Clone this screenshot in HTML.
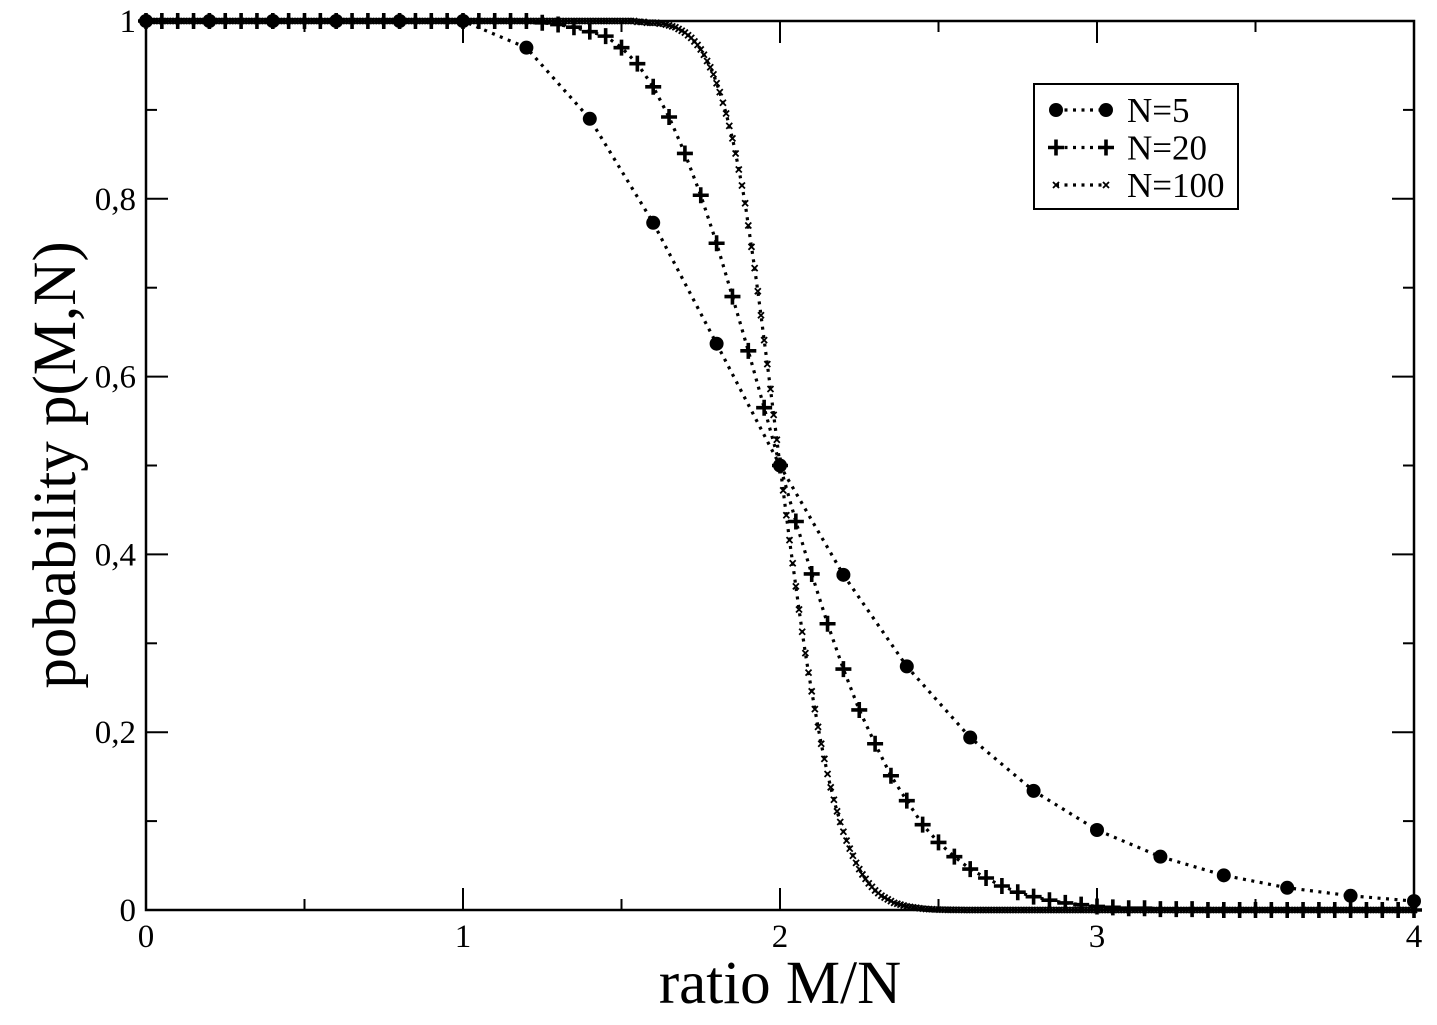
<!DOCTYPE html>
<html><head><meta charset="utf-8"><style>
html,body{margin:0;padding:0;background:#fff;}
svg{display:block;font-family:"Liberation Serif",serif;}
</style></head><body>
<svg id="chart" width="1437" height="1025" viewBox="0 0 1437 1025" xmlns="http://www.w3.org/2000/svg">
<g id="grid"></g>
<g id="series"></g>
<rect x="146" y="21" width="1268" height="889" fill="none" stroke="#000" stroke-width="2.5"/>
<text x="780" y="1003" font-size="61" text-anchor="middle">ratio M/N</text>
<text transform="translate(75,465) rotate(-90)" font-size="61" text-anchor="middle">pobability p(M,N)</text>
<g>
<rect x="1034" y="84" width="204" height="125" fill="#fff" stroke="#000" stroke-width="2"/>
<g id="legend-entries"></g>
</g>
</svg>
<script>
const xTicks=[0,1,2,3,4];
const xTickLabels=["0","1","2","3","4"];
const yTicks=[0,0.2,0.4,0.6,0.8,1];
const yTickLabels=["0","0,2","0,4","0,6","0,8","1"];
const x5=[0,0.2,0.4,0.6,0.8,1,1.2,1.4,1.6,1.8,2,2.2,2.4,2.6,2.8,3,3.2,3.4,3.6,3.8,4];
const y5=[1,1,1,1,1,1,0.97,0.89,0.773,0.637,0.5,0.377,0.274,0.194,0.134,0.09,0.06,0.039,0.025,0.016,0.01];
const y20=[1,1,1,1,1,1,1,1,1,1,1,1,1,1,1,1,1,1,1,1,1,1,1,1,1,
0.998,0.996,0.993,0.988,0.983,0.97,0.952,0.926,0.892,0.851,0.804,0.75,0.69,0.629,0.565,0.5,
0.437,0.378,0.322,0.271,0.225,0.187,0.151,0.123,0.096,0.076,0.06,0.046,0.036,0.027,0.02,0.015,0.011,0.008,0.006,0.004,
0.003,0.002,0.002,0.001,0.001,0.001,0,0,0,0,0,0,0,0,0,0,0,0,0,0];
const y100=[
1,1,1,1,1,1,1,1,1,1,1,1,1,1,1,1,1,1,1,1,1,1,1,1,1,1,1,1,1,1,
1,1,1,1,1,1,1,1,1,1,1,1,1,1,1,1,1,1,1,1,1,1,1,1,1,1,1,1,1,1,
1,1,1,1,1,1,1,1,1,1,1,1,1,1,1,1,1,1,1,1,1,1,1,1,1,1,1,1,1,1,
1,1,1,1,1,1,1,1,1,1,1,1,1,1,1,1,1,1,1,1,1,1,1,1,1,1,1,1,1,1,
1,1,1,1,1,1,1,1,1,1,1,1,1,1,1,1,1,1,1,1,1,1,1,1,1,1,1,1,1,1,
1,1,1,1,1,0.999,0.999,0.999,0.998,0.998,
0.998,0.998,0.997,0.997,0.996,0.995,0.994,0.993,0.991,0.989,
0.987,0.984,0.981,0.977,0.973,0.968,0.962,0.955,0.948,0.94,
0.93,0.92,0.908,0.896,0.882,0.868,0.851,0.833,0.815,0.795,
0.77,0.746,0.722,0.696,0.669,0.641,0.614,0.586,0.557,0.529,
0.5,0.472,0.444,0.416,0.39,0.364,0.338,0.313,0.289,0.267,
0.246,0.226,0.206,0.187,0.17,0.153,0.138,0.124,0.111,0.099,
0.088,0.078,0.069,0.061,0.053,0.046,0.04,0.035,0.03,0.026,
0.022,0.019,0.016,0.014,0.012,0.01,0.008,0.007,0.006,0.005,
0.004,0.0035,0.003,0.0025,0.002,0.0015,0.0012,0.001,0.0008,0.0006,
0.0005,0.0004,0.0003,0.0002,0.0002,0.0001,0.0001,0.0001,0,0,
0,0,0,0,0,0,0,0,0,0,0,0,0,0,0,0,0,0,0,0,0,0,0,0,0,0,0,0,0,0,
0,0,0,0,0,0,0,0,0,0,0,0,0,0,0,0,0,0,0,0,0,0,0,0,0,0,0,0,0,0,
0,0,0,0,0,0,0,0,0,0,0,0,0,0,0,0,0,0,0,0,0,0,0,0,0,0,0,0,0,0,
0,0,0,0,0,0,0,0,0,0,0,0,0,0,0,0,0,0,0,0,0,0,0,0,0,0,0,0,0,0,
0,0,0,0,0,0,0,0,0,0,0,0,0,0,0,0,0,0,0,0,0];
const legendLabels=["N=5","N=20","N=100"];

const NS="http://www.w3.org/2000/svg";
const X0=146,X1=1414,Y0=910,Y1=21;
const sx=v=>X0+(v-0)/(4-0)*(X1-X0);
const sy=v=>Y0-(v-0)/(1-0)*(Y0-Y1);
function mk(tag,attrs,parent){const e=document.createElementNS(NS,tag);for(const k in attrs)e.setAttribute(k,attrs[k]);parent.appendChild(e);return e;}
const grid=document.getElementById('grid');
const series=document.getElementById('series');
const lg=document.getElementById('legend-entries');

for(let v=0;v<=4.0001;v+=0.5){
  const major=Math.abs(v-Math.round(v))<1e-6;
  const L=major?22:11;
  const t1=mk('line',{x1:sx(v),x2:sx(v),y1:Y0,y2:Y0-L,stroke:'#000','stroke-width':2},grid);
  
  
  const t2=mk('line',{x1:sx(v),x2:sx(v),y1:Y1,y2:Y1+L,stroke:'#000','stroke-width':2},grid);
  
  
}
xTicks.forEach((v,i)=>{
  const t=mk('text',{x:sx(v),y:947,'font-size':33,'text-anchor':'middle'},grid);
  t.textContent=xTickLabels[i];
  
  
});
for(let k=0;k<=10;k++){
  const v=k/10;const major=k%2===0;const L=major?22:11;
  const t1=mk('line',{x1:X0,x2:X0+L,y1:sy(v),y2:sy(v),stroke:'#000','stroke-width':2},grid);
  
  
  const t2=mk('line',{x1:X1,x2:X1-L,y1:sy(v),y2:sy(v),stroke:'#000','stroke-width':2},grid);
  
  
}
yTicks.forEach((v,i)=>{
  const t=mk('text',{x:136,y:sy(v)+11,'font-size':33,'text-anchor':'end'},grid);
  t.textContent=yTickLabels[i];
  
  
});

function dotted(xs,ys,name){
  const d=xs.map((x,i)=>(i?'L':'M')+sx(x).toFixed(2)+','+sy(ys[i]).toFixed(2)).join('');
  const p=mk('path',{d:d,fill:'none',stroke:'#000','stroke-width':3.2,'stroke-dasharray':'3 5.5'},series);
  
  
}
function marker(type,cx,cy,parent,name){
  let e;
  if(type==='circle'){e=mk('circle',{cx:cx,cy:cy,r:7,fill:'#000'},parent);}
  else if(type==='plus'){e=mk('path',{d:`M${cx-8},${cy}H${cx+8}M${cx},${cy-8}V${cy+8}`,stroke:'#000','stroke-width':3.6,fill:'none'},parent);}
  else {e=mk('path',{d:`M${cx-3},${cy-3}L${cx+3},${cy+3}M${cx-3},${cy+3}L${cx+3},${cy-3}`,stroke:'#000','stroke-width':1.8,fill:'none'},parent);}
  
  
}
const x20=y20.map((_,i)=>i*0.05);
const x100=y100.map((_,i)=>i*0.01);
dotted(x5,y5,'line-n5');
dotted(x20,y20,'line-n20');
dotted(x100,y100,'line-n100');
x100.forEach((x,i)=>marker('x',sx(x),sy(y100[i]),series,'point-n100'));
x20.forEach((x,i)=>marker('plus',sx(x),sy(y20[i]),series,'point-n20'));
x5.forEach((x,i)=>marker('circle',sx(x),sy(y5[i]),series,'point-n5'));

const types=['circle','plus','x'];
legendLabels.forEach((lab,i)=>{
  const y=110+i*37.5;
  const g=mk('g',{},lg);
  
  
  const l=mk('line',{x1:1056,x2:1106,y1:y,y2:y,stroke:'#000','stroke-width':3.2,'stroke-dasharray':'3 5.5'},g);
  
  
  marker(types[i],1056,y,g,'legend-marker');
  marker(types[i],1106,y,g,'legend-marker');
  const t=mk('text',{x:1127,y:y+12,'font-size':35},g);
  t.textContent=lab;
  
  
});
</script>
</body></html>
